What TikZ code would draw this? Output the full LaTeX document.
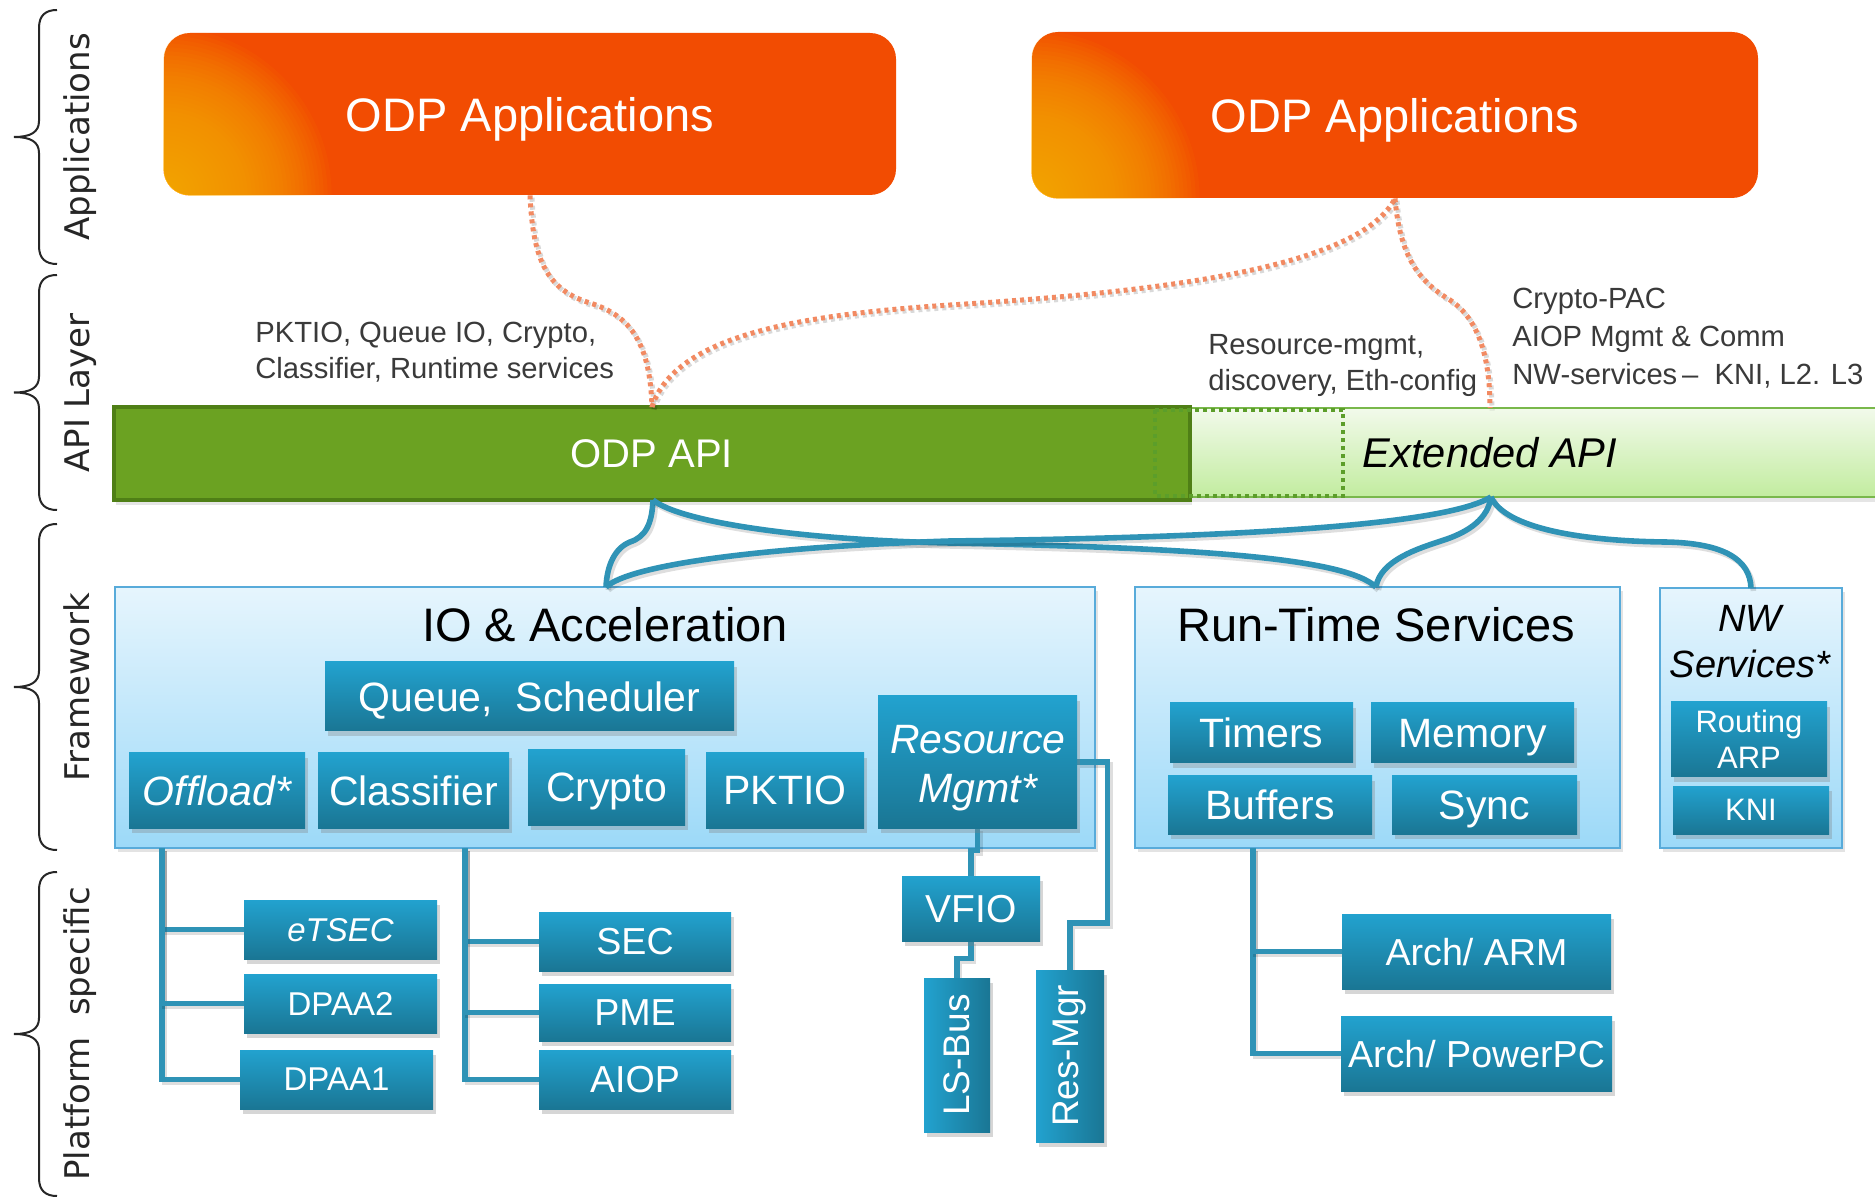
\documentclass[tikz,border=0pt]{standalone}
\usepackage{fontspec}
\usepackage{graphicx}
\setmainfont{Liberation Sans}
\newfontfamily\sidefont{DejaVu Sans}
\usetikzlibrary{shadows}

\definecolor{appA}{HTML}{F24C02}
\definecolor{appglow}{HTML}{FFB400}
\definecolor{odpgreen}{HTML}{6BA222}
\definecolor{odpedge}{HTML}{4F7F16}
\definecolor{extT}{HTML}{F2FAEB}
\definecolor{extB}{HTML}{C2EC9F}
\definecolor{extedge}{HTML}{79B84B}
\definecolor{dotgreen}{HTML}{5C9E2A}
\definecolor{ltop}{HTML}{E6F5FD}
\definecolor{lbot}{HTML}{9CD9F8}
\definecolor{lbord}{HTML}{58ABDA}
\definecolor{ttop}{HTML}{22A2CF}
\definecolor{tbot}{HTML}{1A7694}
\definecolor{wireteal}{HTML}{2F93B6}
\definecolor{dotorange}{HTML}{F28A62}
\definecolor{lblgray}{HTML}{3A3A3A}

\pgfdeclarelayer{bg}
\pgfdeclarelayer{wire}
\pgfsetlayers{bg,wire,main}

% box from its corners (x1,y1)-(x2,y2), in picture units
\newcommand{\placebox}[7]{%
  \pgfmathsetmacro\pbcx{(#2+#4)/2}%
  \pgfmathsetmacro\pbcy{(#3+#5)/2}%
  \pgfmathsetmacro\pbw{(#4-#2)*0.5}%
  \pgfmathsetmacro\pbh{(#5-#3)*0.5}%
  \node[#6, minimum width=\pbw pt, minimum height=\pbh pt] (#1) at (\pbcx,\pbcy) {#7};%
}

% warm glow in the lower left corner of an application box
\newcommand{\appglowin}[1]{%
  \begin{scope}
    \clip[rounded corners=13pt] (#1.south west) rectangle (#1.north east);
    \foreach \r in {2,4,...,84}
      \fill[appglow, opacity=0.055] (#1.south west) circle (\r pt);
  \end{scope}%
}

% layer brace on the left margin: top, bottom
\newcommand{\sidebrace}[2]{%
  \pgfmathsetmacro\sbm{(#1+#2)/2}%
  \draw[sidebr] (57,#1) .. controls (46,#1) and (39,#1+5) .. (39,#1+18)
    -- (39,\sbm-16) .. controls (39,\sbm-5) and (31,\sbm) .. (14,\sbm)
    .. controls (31,\sbm) and (39,\sbm+5) .. (39,\sbm+16)
    -- (39,#2-18) .. controls (39,#2-5) and (46,#2) .. (57,#2);%
}

\begin{document}
\begin{tikzpicture}[x=0.5pt,y=-0.5pt,
  oneline/.style={text depth=0pt},
  fbig/.style={font=\fontsize{23.5}{28}\selectfont},
  fmid/.style={font=\fontsize{20.5}{24.5}\selectfont},
  appbox/.style={rounded corners=13pt, fill=appA, inner sep=0pt},
  apptext/.style={text=white, fbig, oneline, inner sep=0pt},
  odpbar/.style={fill=odpgreen, draw=odpedge, line width=2pt, inner sep=0pt, text=white,
    font=\fontsize{20}{24}\selectfont, oneline,
    drop shadow={shadow xshift=1pt, shadow yshift=-2.5pt, opacity=0.2}},
  extbar/.style={top color=extT, bottom color=extB, draw=extedge, line width=1pt, inner sep=0pt,
    drop shadow={shadow xshift=1pt, shadow yshift=-2.5pt, opacity=0.2}},
  dotrect/.style={draw=dotgreen, line width=1.6pt, dash pattern=on 2pt off 2pt},
  lightbox/.style={draw=lbord, line width=0.8pt, top color=ltop, bottom color=lbot, inner sep=0pt,
    drop shadow={shadow xshift=1.5pt, shadow yshift=-2pt, opacity=0.22}},
  darkbox/.style={top color=ttop, bottom color=tbot, text=white, inner sep=0pt, align=center, fmid,
    drop shadow={shadow xshift=1.5pt, shadow yshift=-2.5pt, opacity=0.32}},
  darkvert/.style={left color=ttop, right color=tbot, text=white, inner sep=0pt,
    font=\fontsize{18.5}{22}\selectfont,
    drop shadow={shadow xshift=1.5pt, shadow yshift=-2.5pt, opacity=0.32}},
  boxtext/.style={text=white, inner sep=0pt, align=center},
  title/.style={fbig, text=black, inner sep=0pt, oneline},
  lbl/.style={font=\fontsize{14.6}{18}\selectfont, text=lblgray, inner sep=0pt, align=left, anchor=west},
  sidelbl/.style={font=\sidefont\fontsize{17}{20}\selectfont, text=black!85, inner sep=0pt,
    rotate=90, anchor=base},
  sidebr/.style={draw=black!85, line width=1pt},
  wire/.style={draw=wireteal, line width=2.8pt,
    preaction={draw=black, opacity=0.13, line width=2.8pt, transform canvas={xshift=1.2pt,yshift=-1.5pt}}},
  dotwire/.style={draw=dotorange, line width=2.5pt, dash pattern=on 2pt off 2pt,
    preaction={draw=black, opacity=0.15, line width=2.5pt, dash pattern=on 2pt off 2pt,
      transform canvas={xshift=1pt,yshift=-1.2pt}}}
]
\useasboundingbox (0,0) rectangle (1875,1197);
\begin{pgfonlayer}{bg}
\fill[white] (0,0) rectangle (1875,1197);
\end{pgfonlayer}

% ---- layer braces and their names
\sidebrace{10}{264}
\sidebrace{275}{510}
\sidebrace{524}{850}
\sidebrace{872}{1196}
\node[sidelbl] (labapp) at (89,137) {Applications};
\node[sidelbl] (labapi) at (89,393) {API Layer};
\node[sidelbl] (labfw) at (89,687) {Framework};
\node[sidelbl] (labps) at (89,1034) {Platform\ \ specific};

% ---- applications
\placebox{appL}{164}{33}{896}{195}{appbox}{}
\placebox{appR}{1032}{32}{1758}{198}{appbox}{}
\appglowin{appL}
\appglowin{appR}
\node[apptext] (appLtxt) at (appL.center) {ODP Applications};
\node[apptext] (appRtxt) at (appR.center) {ODP Applications};

% ---- API bars
\begin{pgfonlayer}{bg}
\placebox{extapi}{1190}{408}{1890}{497}{extbar}{}
\placebox{odpapi}{114}{407}{1190}{500}{odpbar}{ODP API}
\draw[dotrect] (1155,410) rectangle (1343,496);
\end{pgfonlayer}
\node[font=\fontsize{20.8}{25}\selectfont\itshape, text=black, inner sep=0pt, oneline] (extlbl) at (1490,452) {Extended API};

\node[lbl] (txtodp) at (255,352) {PKTIO, Queue IO, Crypto,\\Classifier, Runtime services};
\node[lbl] (txtres) at (1208,365) {Resource-mgmt,\\discovery, Eth-config};
\node[lbl, font=\fontsize{14.6}{19}\selectfont] (txtext) at (1512,338)
  {Crypto-PAC\\AIOP Mgmt \& Comm\\NW-services\,–\ \ KNI, L2. L3};

% ---- framework boxes
\begin{pgfonlayer}{bg}
\placebox{io}{115}{587}{1095}{848}{lightbox}{}
\placebox{rts}{1135}{587}{1620}{848}{lightbox}{}
\placebox{nw}{1660}{588}{1842}{848}{lightbox}{}
\end{pgfonlayer}
\node[title] (iotitle) at (605,624) {IO \& Acceleration};
\node[title] (rtstitle) at (1376,624) {Run-Time Services};
\node[title, font=\fontsize{19}{23}\selectfont\itshape, align=center, text depth=] (nwtitle) at (1750,642) {NW\\Services*};

\placebox{queue}{325}{662}{734}{731}{darkbox, oneline}{Queue,\ \ Scheduler}
\placebox{offload}{129}{753}{305}{828}{darkbox, oneline, font=\fontsize{20.5}{24.5}\selectfont\itshape}{Offload*}
\placebox{classifier}{318}{753}{509}{828}{darkbox, oneline}{Classifier}
\placebox{crypto}{528}{750}{685}{825}{darkbox, oneline}{Crypto}
\placebox{pktio}{706}{753}{864}{828}{darkbox, oneline}{PKTIO}
\placebox{resmgmt}{878}{696}{1077}{828}{darkbox}{}
\node[boxtext, font=\fontsize{20.5}{24.5}\selectfont\itshape] (resmgmttxt) at (978,768) {Resource\\Mgmt*};
\placebox{timers}{1170}{703}{1353}{763}{darkbox, oneline}{Timers}
\placebox{memory}{1371}{703}{1574}{763}{darkbox, oneline}{Memory}
\placebox{buffers}{1168}{776}{1372}{834}{darkbox, oneline}{Buffers}
\placebox{sync}{1392}{776}{1577}{834}{darkbox, oneline}{Sync}
\placebox{routing}{1671}{702}{1827}{777}{darkbox, font=\fontsize{15.5}{18}\selectfont}{Routing\\ARP}
\placebox{kni}{1673}{786}{1829}{834}{darkbox, oneline, font=\fontsize{15.5}{18}\selectfont}{KNI}

% ---- platform specific blocks
\placebox{etsec}{244}{900}{437}{959}{darkbox, oneline, font=\fontsize{16.5}{20}\selectfont\itshape}{eTSEC}
\placebox{dpaa2}{244}{974}{437}{1033}{darkbox, oneline, font=\fontsize{16.5}{20}\selectfont}{DPAA2}
\placebox{dpaa1}{240}{1050}{433}{1109}{darkbox, oneline, font=\fontsize{16.5}{20}\selectfont}{DPAA1}
\placebox{sec}{539}{912}{731}{971}{darkbox, oneline, font=\fontsize{18.8}{22}\selectfont}{SEC}
\placebox{pme}{539}{984}{731}{1041}{darkbox, oneline, font=\fontsize{18.8}{22}\selectfont}{PME}
\placebox{aiop}{539}{1050}{731}{1109}{darkbox, oneline, font=\fontsize{18.8}{22}\selectfont}{AIOP}
\placebox{vfio}{902}{876}{1040}{941}{darkbox, oneline, font=\fontsize{19.5}{23}\selectfont}{VFIO}
\placebox{lsbus}{924}{978}{990}{1132}{darkvert}{\rotatebox{90}{LS-Bus}}
\placebox{resmgr}{1036}{970}{1104}{1142}{darkvert}{\rotatebox{90}{Res-Mgr}}
\placebox{arm}{1342}{914}{1611}{989}{darkbox, oneline, font=\fontsize{18.8}{22}\selectfont}{Arch/ ARM}
\placebox{ppc}{1341}{1016}{1612}{1091}{darkbox, oneline, font=\fontsize{18.8}{22}\selectfont}{Arch/ PowerPC}

% ---- connectors
\coordinate (odptop) at (652,407);
\coordinate (exttop) at (1490,408);
\coordinate (odptip) at (653,500);
\coordinate (exttip) at (1491,497);
\coordinate (ioin) at (606,587);
\coordinate (rtsin) at (1376,587);
\coordinate (nwin) at (1751,588);
\coordinate (offtap) at (162,848);
\coordinate (clstap) at (465,848);
\coordinate (buftap) at (1253,848);

\begin{pgfonlayer}{wire}
% application to API
\draw[dotwire] (appL.south) .. controls (533,262) and (548,290) .. (590,303)
  .. controls (632,316) and (650,345) .. (odptop);
\draw[dotwire] (odptop) .. controls (675,335) and (800,315) .. (950,305)
  .. controls (1160,292) and (1360,268) .. (appR.south);
\draw[dotwire] (appR.south) .. controls (1400,258) and (1420,282) .. (1450,300)
  .. controls (1480,320) and (1490,360) .. (exttop);

% API to framework braces
\draw[wire] (odptip) .. controls (652,525) and (645,537) .. (630,542)
  .. controls (615,548) and (607,565) .. (ioin);
\draw[wire] (odptip) .. controls (680,522) and (800,540) .. (950,543)
  .. controls (1200,548) and (1345,558) .. (rtsin);
\draw[wire] (ioin) .. controls (630,565) and (760,547) .. (950,541)
  .. controls (1200,538) and (1440,528) .. (exttip);
\draw[wire] (rtsin) .. controls (1380,560) and (1420,548) .. (1441,541)
  .. controls (1470,532) and (1488,518) .. (exttip);
\draw[wire] (exttip) .. controls (1505,528) and (1580,541) .. (1665,542)
  .. controls (1725,543) and (1750,560) .. (nwin);

% framework to platform trees
\draw[wire] (offtap) |- (dpaa1.west);
\draw[wire] (offtap) |- (etsec.west);
\draw[wire] (offtap) |- (dpaa2.west);
\draw[wire] (clstap) |- (aiop.west);
\draw[wire] (clstap) |- (sec.west);
\draw[wire] (clstap) |- (pme.west);
\draw[wire] (resmgmt.south) -- ++(0,22) -| (vfio.north);
\draw[wire] (vfio.south) -- ++(0,17) -| (lsbus.north);
\draw[wire] (resmgmt.east) -- ++(30,0) -- ++(0,161) -| (resmgr.north);
\draw[wire] (buftap) |- (ppc.west);
\draw[wire] (buftap) |- (arm.west);
\end{pgfonlayer}
\end{tikzpicture}
\end{document}
